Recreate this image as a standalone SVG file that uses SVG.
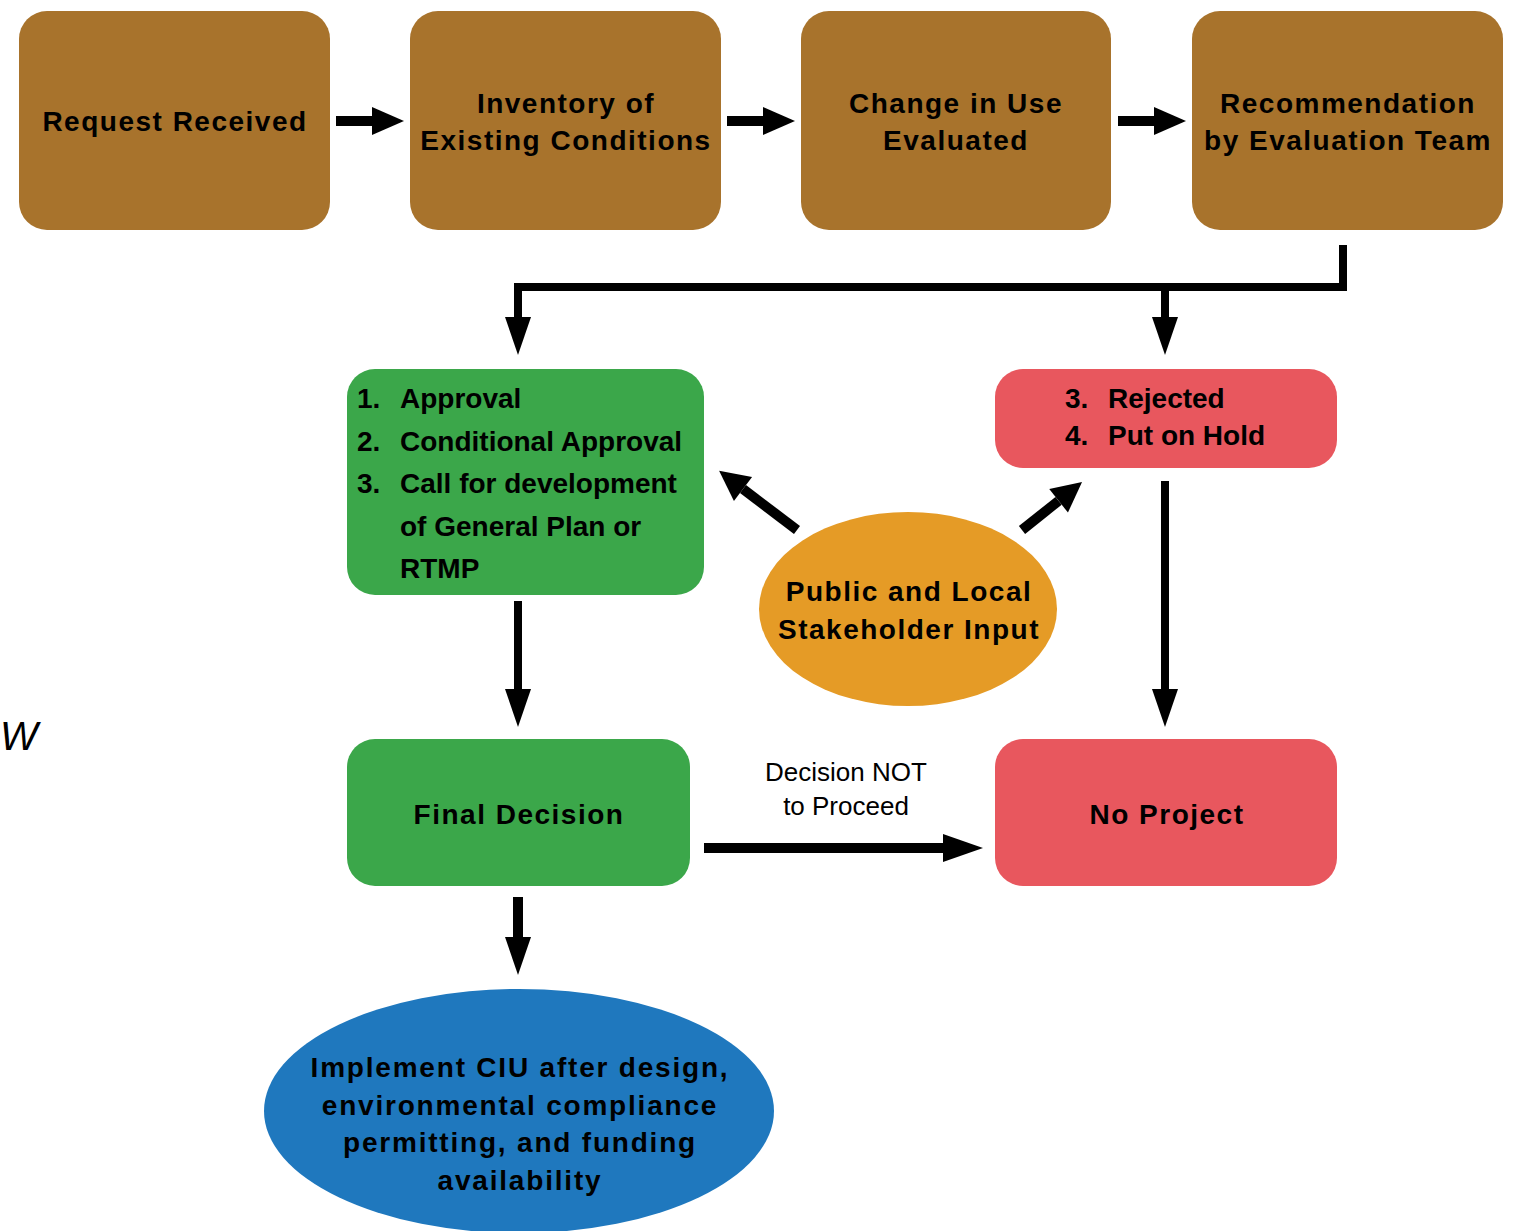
<svg xmlns="http://www.w3.org/2000/svg" width="1515" height="1231" viewBox="0 0 1515 1231">
<style>
.brown{fill:#A8732C}
.green{fill:#3BA74A}
.red{fill:#E8575E}
.orange{fill:#E59B26}
.blue{fill:#1F78BE}
.wide{font-family:"Liberation Sans",Arial,sans-serif;font-weight:bold;font-size:28px;letter-spacing:1.5px;fill:#000;text-anchor:middle}
.list{font-family:"Liberation Sans",Arial,sans-serif;font-weight:bold;font-size:28px;fill:#000}
.lbl{font-family:"Liberation Sans",Arial,sans-serif;font-size:26px;fill:#000;text-anchor:middle}
.ln{stroke:#000;fill:none}
</style>
<defs>
<marker id="hA" markerUnits="userSpaceOnUse" markerWidth="32" markerHeight="28" refX="0" refY="14" orient="auto" overflow="visible"><path d="M0,0 L32,14 L0,28 Z" fill="#000"/></marker>
<marker id="hB" markerUnits="userSpaceOnUse" markerWidth="38" markerHeight="26" refX="0" refY="13" orient="auto" overflow="visible"><path d="M0,0 L38,13 L0,26 Z" fill="#000"/></marker>
<marker id="hC" markerUnits="userSpaceOnUse" markerWidth="40" markerHeight="28" refX="0" refY="14" orient="auto" overflow="visible"><path d="M0,0 L40,14 L0,28 Z" fill="#000"/></marker>
<marker id="hD" markerUnits="userSpaceOnUse" markerWidth="30" markerHeight="30" refX="0" refY="15" orient="auto" overflow="visible"><path d="M0,0 L30,15 L0,30 Z" fill="#000"/></marker>
</defs>
<text x="0" y="750" style="font-family:'Liberation Sans',Arial,sans-serif;font-style:italic;font-size:40px;fill:#000">W</text>
<g id="connectors">
<line class="ln" x1="336" y1="121" x2="372" y2="121" stroke-width="10" marker-end="url(#hA)"/>
<line class="ln" x1="727" y1="121" x2="763" y2="121" stroke-width="10" marker-end="url(#hA)"/>
<line class="ln" x1="1118" y1="121" x2="1154" y2="121" stroke-width="10" marker-end="url(#hA)"/>
<path class="ln" d="M1343,245 V287 H518 V317" stroke-width="8" marker-end="url(#hB)"/>
<line class="ln" x1="1165" y1="287" x2="1165" y2="317" stroke-width="8" marker-end="url(#hB)"/>
<line class="ln" x1="797" y1="530" x2="743" y2="489" stroke-width="10" marker-end="url(#hD)"/>
<line class="ln" x1="1022" y1="530" x2="1058.6" y2="500.8" stroke-width="10" marker-end="url(#hD)"/>
<line class="ln" x1="518" y1="601" x2="518" y2="689" stroke-width="8" marker-end="url(#hB)"/>
<line class="ln" x1="1165" y1="481" x2="1165" y2="689" stroke-width="8" marker-end="url(#hB)"/>
<line class="ln" x1="704" y1="848" x2="943" y2="848" stroke-width="10" marker-end="url(#hC)"/>
<line class="ln" x1="518" y1="897" x2="518" y2="937" stroke-width="10" marker-end="url(#hB)"/>
<text class="lbl" x="846" y="781">Decision NOT</text>
<text class="lbl" x="846" y="815">to Proceed</text>
</g>
<g id="n1"><rect class="brown" x="19" y="11" width="311" height="219" rx="28"/><text class="wide" x="175" y="131">Request Received</text></g>
<g id="n2"><rect class="brown" x="410" y="11" width="311" height="219" rx="28"/><text class="wide" x="566" y="113">Inventory of</text><text class="wide" x="566" y="150">Existing Conditions</text></g>
<g id="n3"><rect class="brown" x="801" y="11" width="310" height="219" rx="28"/><text class="wide" x="956" y="113">Change in Use</text><text class="wide" x="956" y="150">Evaluated</text></g>
<g id="n4"><rect class="brown" x="1192" y="11" width="311" height="219" rx="28"/><text class="wide" x="1348" y="113">Recommendation</text><text class="wide" x="1348" y="150">by Evaluation Team</text></g>
<g id="n5"><rect class="green" x="347" y="369" width="357" height="226" rx="28"/>
<text class="list" x="357" y="408">1.</text><text class="list" x="400" y="408">Approval</text>
<text class="list" x="357" y="451">2.</text><text class="list" x="400" y="451">Conditional Approval</text>
<text class="list" x="357" y="493">3.</text><text class="list" x="400" y="493">Call for development</text>
<text class="list" x="400" y="536">of General Plan or</text>
<text class="list" x="400" y="578">RTMP</text></g>
<g id="n6"><rect class="red" x="995" y="369" width="342" height="99" rx="28"/>
<text class="list" x="1065" y="408">3.</text><text class="list" x="1108" y="408">Rejected</text>
<text class="list" x="1065" y="445">4.</text><text class="list" x="1108" y="445">Put on Hold</text></g>
<g id="n7"><ellipse class="orange" cx="908" cy="609" rx="149" ry="97"/><text class="wide" x="909" y="601">Public and Local</text><text class="wide" x="909" y="639">Stakeholder Input</text></g>
<g id="n8"><rect class="green" x="347" y="739" width="343" height="147" rx="28"/><text class="wide" x="519" y="824">Final Decision</text></g>
<g id="n9"><rect class="red" x="995" y="739" width="342" height="147" rx="28"/><text class="wide" x="1167" y="824">No Project</text></g>
<g id="n10"><ellipse class="blue" cx="519" cy="1111" rx="255" ry="122"/>
<text class="wide" x="520" y="1077" style="letter-spacing:1.8px">Implement CIU after design,</text>
<text class="wide" x="520" y="1115" style="letter-spacing:1.8px">environmental compliance</text>
<text class="wide" x="520" y="1152" style="letter-spacing:1.8px">permitting, and funding</text>
<text class="wide" x="520" y="1190" style="letter-spacing:1.8px">availability</text></g>
</svg>
